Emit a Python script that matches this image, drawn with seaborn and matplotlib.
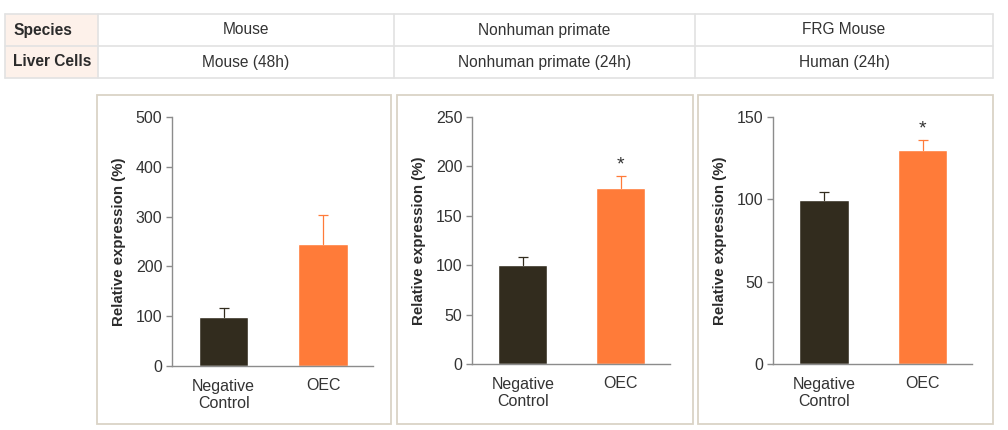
import matplotlib
matplotlib.use("Agg")
import matplotlib.pyplot as plt
import seaborn as sns
import pandas as pd
from matplotlib.patches import Rectangle

sns.set_theme(style="white")
plt.rcParams['font.family'] = ['Liberation Sans', 'DejaVu Sans']

# ---- data ----
species = ["Mouse", "Nonhuman primate", "FRG Mouse"]
liver_cells = ["Mouse (48h)", "Nonhuman primate (24h)", "Human (24h)"]
groups = ["Negative\nControl", "OEC"]
values_mouse = [98, 245]
errors_mouse = [19, 58]
values_nhp = [100.5, 178]
errors_nhp = [8, 12]
values_frg = [99.5, 130]
errors_frg = [5, 6]
ymax = [500, 250, 150]
yticks_step = [100, 50, 50]
significant = [[False, False], [False, True], [False, True]]

panels = [(values_mouse, errors_mouse), (values_nhp, errors_nhp), (values_frg, errors_frg)]

W, H = 1008, 430
fig = plt.figure(figsize=(W / 100, H / 100), dpi=100)

def fx(x):
    return x / W

def fy(y):
    return 1 - y / H

# ---- table ----
border = "#E2E2E2"
pink = "#FDF1EA"
tab_left, tab_right = 5, 993
rows_y = [14, 46, 78]
col_x = [5, 98, 394, 695, 993]
fig.patches.append(Rectangle((fx(5), fy(78)), fx(98 - 5), (78 - 14) / H,
                             transform=fig.transFigure, facecolor=pink, edgecolor="none", zorder=0))
for y in rows_y:
    fig.add_artist(plt.Line2D([fx(tab_left), fx(tab_right)], [fy(y), fy(y)],
                              transform=fig.transFigure, color=border, lw=1.2))
for x in col_x:
    fig.add_artist(plt.Line2D([fx(x), fx(x)], [fy(14), fy(78)],
                              transform=fig.transFigure, color=border, lw=1.2))
row_labels = ["Species", "Liver Cells"]
row_texts = [species, liver_cells]
for r in range(2):
    yc = (rows_y[r] + rows_y[r + 1]) / 2
    fig.text(fx(13), fy(yc), row_labels[r], fontsize=11.2, fontweight="bold",
             color="#2b2b2b", ha="left", va="center")
    for c in range(3):
        xc = (col_x[c + 1] + col_x[c + 2]) / 2
        fig.text(fx(xc), fy(yc), row_texts[r][c], fontsize=11.2, color="#333333",
                 ha="center", va="center")

# ---- panel boxes ----
box_edge = "#DAD3C6"
boxes = [(97, 391), (397, 693), (698, 993)]
for (l, r) in boxes:
    fig.patches.append(Rectangle((fx(l), fy(424)), fx(r - l), (424 - 95) / H,
                                 transform=fig.transFigure, facecolor="none",
                                 edgecolor=box_edge, lw=1.3, zorder=1))

# ---- axes ----
axes_px = [(172, 373, 117, 366), (472, 670, 117, 364), (773, 972, 117, 364)]
colors = ["#322C1E", "#FF7B39"]
for i, ((vals, errs), (l, r, t, b)) in enumerate(zip(panels, axes_px)):
    ax = fig.add_axes([fx(l), fy(b), fx(r - l), (b - t) / H])
    df = pd.DataFrame({"group": groups, "value": vals})
    sns.barplot(data=df, x="group", y="value", hue="group", palette=colors,
                width=0.5, legend=False, ax=ax, errorbar=None, saturation=1)
    for j in range(2):
        top = vals[j] + errs[j]
        ax.plot([j, j], [vals[j], top], color=colors[j], lw=0.9, zorder=3)
        ax.plot([j], [top], marker="_", markersize=7, markeredgewidth=0.9,
                color=colors[j], zorder=3)
        if significant[i][j]:
            ax.annotate("*", xy=(j, top), xytext=(0, 8), textcoords="offset points",
                        ha="center", va="center", fontsize=14, color="#333333")
    ax.set_xlim(-0.518, 1.5)
    ax.set_ylim(0, ymax[i])
    ax.set_yticks(range(0, ymax[i] + 1, yticks_step[i]))
    ax.set_xlabel("")
    ax.set_ylabel("Relative expression (%)", fontsize=10.8, fontweight="bold",
                  color="#2b2b2b", labelpad=7)
    ax.set_facecolor("none")
    for s in ["top", "right"]:
        ax.spines[s].set_visible(False)
    for s in ["left", "bottom"]:
        ax.spines[s].set_color("#8c8c8c")
        ax.spines[s].set_linewidth(1.0)
    ax.tick_params(axis="y", left=True, length=4, width=1, color="#8c8c8c",
                   labelsize=11.5, labelcolor="#333333", pad=3)
    ax.tick_params(axis="x", bottom=False, labelsize=11.5, labelcolor="#333333", pad=3)
    for lab in ax.get_xticklabels():
        lab.set_linespacing(1.2)
    ax.grid(False)

fig.savefig("out.png", dpi=100)
